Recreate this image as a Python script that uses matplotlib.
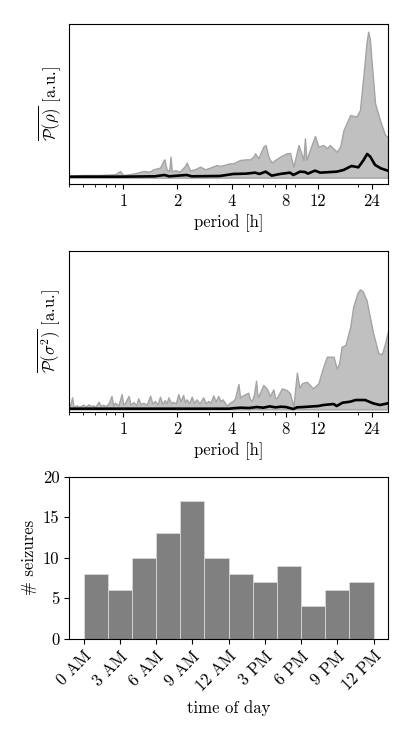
import numpy as np
import matplotlib
matplotlib.use('Agg')
import matplotlib.pyplot as plt
from matplotlib.ticker import NullFormatter

plt.rcParams['font.family'] = ['cmr10', 'DejaVu Serif']
plt.rcParams['mathtext.fontset'] = 'cm'
plt.rcParams['axes.unicode_minus'] = False
plt.rcParams['font.size'] = 12

# --- periodogram of rho: upper band and mean ---
rho_period = [0.50, 0.60, 0.74, 0.90, 0.96, 1.00, 1.14, 1.29, 1.40, 1.47, 1.60, 1.67, 1.69,
              1.74, 1.80, 1.83, 1.86, 1.95, 2.06, 2.20, 2.25, 2.35, 2.50, 2.67, 2.85, 3.03,
              3.30, 3.44, 3.91, 4.08, 4.45, 4.84, 5.05, 5.28, 5.39, 5.62, 5.99, 6.17, 6.39,
              6.67, 6.96, 7.42, 8.07, 8.43, 8.80, 9.40, 10.0, 10.2, 10.4, 10.85, 11.6, 12.1,
              12.9, 13.5, 14.0, 15.3, 16.0, 16.7, 18.2, 19.7, 20.6, 21.6, 22.4, 22.9, 23.4,
              23.9, 25.0, 26.6, 28.4, 29.4]
rho_upper = [0.05, 0.08, 0.08, 0.10, 0.20, 0.08, 0.12, 0.20, 0.18, 0.25, 0.30, 0.50, 0.55,
             0.25, 0.20, 0.63, 0.20, 0.22, 0.18, 0.35, 0.45, 0.22, 0.25, 0.33, 0.25, 0.30,
             0.38, 0.35, 0.43, 0.43, 0.53, 0.55, 0.55, 0.63, 0.73, 0.58, 0.93, 0.98, 0.63,
             0.45, 0.53, 0.63, 0.73, 0.74, 0.33, 0.98, 0.53, 1.18, 0.53, 0.83, 1.25, 0.93,
             0.98, 0.88, 0.98, 0.78, 0.93, 1.43, 1.88, 1.83, 2.03, 3.13, 4.05, 4.38, 4.15,
             3.50, 2.23, 1.73, 1.28, 1.23]
rho_mean_period = [0.50, 1.00, 1.50, 1.69, 1.80, 2.25, 2.40, 3.44, 4.08, 4.80, 5.39, 5.70,
                   6.17, 6.67, 7.42, 8.43, 8.80, 9.58, 10.2, 10.6, 11.6, 12.4, 15.3, 16.7,
                   18.5, 20.2, 21.6, 22.6, 23.5, 25.0, 26.9, 29.4]
rho_mean = [0.03, 0.03, 0.04, 0.08, 0.04, 0.08, 0.04, 0.05, 0.11, 0.12, 0.15, 0.11,
            0.18, 0.06, 0.11, 0.15, 0.08, 0.18, 0.17, 0.12, 0.21, 0.15, 0.18, 0.23,
            0.35, 0.31, 0.53, 0.71, 0.63, 0.38, 0.28, 0.21]

# --- periodogram of sigma^2 ---
sig_period = [0.506, 0.52, 0.53, 0.55, 0.57, 0.60, 0.62, 0.64, 0.66, 0.68, 0.70, 0.73, 0.75,
              0.77, 0.80, 0.83, 0.86, 0.88, 0.90, 0.94, 0.98, 1.00, 1.02, 1.07, 1.10, 1.14,
              1.18, 1.21, 1.25, 1.29, 1.35, 1.41, 1.45, 1.50, 1.55, 1.60, 1.65, 1.70, 1.74,
              1.78, 1.84, 1.90, 1.96, 2.02, 2.08, 2.15, 2.20, 2.25, 2.32, 2.40, 2.47, 2.55,
              2.65, 2.78, 2.87, 2.96, 3.05, 3.16, 3.26, 3.37, 3.46, 3.56, 3.75, 3.91, 4.05,
              4.17, 4.36, 4.45, 4.54, 4.74, 4.94, 5.05, 5.17, 5.32, 5.46, 5.55, 5.62, 5.99,
              6.25, 6.52, 6.81, 6.96, 7.10, 7.60, 8.07, 8.43, 8.80, 9.20, 9.50, 9.80, 10.4,
              10.8, 11.3, 12.1, 12.9, 13.5, 14.7, 15.3, 15.8, 16.3, 17.1, 18.2, 18.9, 20.0,
              20.6, 21.3, 22.4, 24.4, 26.1, 27.3, 28.4, 29.4]
sig_upper = [0.10, 0.36, 0.08, 0.12, 0.08, 0.14, 0.08, 0.15, 0.10, 0.12, 0.08, 0.23, 0.10,
             0.14, 0.10, 0.18, 0.40, 0.12, 0.20, 0.12, 0.46, 0.15, 0.18, 0.40, 0.14, 0.22,
             0.12, 0.33, 0.15, 0.20, 0.14, 0.41, 0.18, 0.25, 0.15, 0.38, 0.16, 0.28, 0.18,
             0.36, 0.20, 0.22, 0.18, 0.46, 0.24, 0.43, 0.22, 0.30, 0.18, 0.38, 0.20, 0.30,
             0.18, 0.36, 0.18, 0.25, 0.20, 0.42, 0.24, 0.40, 0.25, 0.30, 0.11, 0.20, 0.25,
             0.32, 0.76, 0.35, 0.40, 0.45, 0.50, 0.30, 0.26, 0.45, 0.86, 0.45, 0.38, 0.73,
             0.63, 0.40, 0.60, 0.35, 0.33, 0.63, 0.58, 0.48, 0.08, 1.10, 0.65, 0.78, 0.83,
             0.75, 0.63, 0.78, 1.28, 1.58, 1.58, 1.23, 1.38, 1.88, 1.93, 2.48, 3.08, 3.50,
             3.60, 3.55, 3.28, 2.28, 1.68, 1.66, 1.98, 2.33]
sig_mean_period = [0.506, 1.0, 2.0, 3.9, 4.0, 4.5, 5.0, 5.5, 6.0, 6.5, 7.0, 7.5, 8.0, 8.8,
                   9.2, 10.0, 12.1, 12.9, 14.7, 15.3, 16.5, 18.2, 19.5, 22.0, 24.4, 26.6, 29.4]
sig_mean = [0.02, 0.02, 0.02, 0.02, 0.03, 0.05, 0.04, 0.07, 0.05, 0.09, 0.06, 0.08, 0.07,
            0.01, 0.06, 0.07, 0.10, 0.13, 0.16, 0.10, 0.20, 0.23, 0.28, 0.28, 0.18, 0.13, 0.18]

period_ticks = [1, 2, 4, 8, 12, 24]

# --- seizure histogram ---
bin_start = [0, 2, 4, 6, 8, 10, 12, 14, 16, 18, 20, 22]
seizures = [8, 6, 10, 13, 17, 10, 8, 7, 9, 4, 6, 7]
hour_ticks = [0, 3, 6, 9, 12, 15, 18, 21, 24]
hour_labels = ['0 AM', '3 AM', '6 AM', '9 AM', '12 AM', '3 PM', '6 PM', '9 PM', '12 PM']

fig = plt.figure(figsize=(4.15, 7.38), dpi=100)
ax1 = fig.add_axes([0.1663, 0.7507, 0.7687, 0.2168])
ax2 = fig.add_axes([0.1663, 0.4417, 0.7687, 0.2186])
ax3 = fig.add_axes([0.1663, 0.1346, 0.7687, 0.2195])


def periodogram(ax, period, upper, mean_p, mean, ylabel, ylim):
    ax.fill_between(period, 0, upper, facecolor='#c0c0c0', edgecolor='#a4a4a4', linewidth=1.0)
    ax.plot(mean_p, mean, color='black', linewidth=1.9)
    ax.set_xscale('log')
    ax.set_xlim(0.5, 29.5)
    ax.set_ylim(*ylim)
    ax.set_xticks(period_ticks, [str(t) for t in period_ticks])
    ax.xaxis.set_minor_formatter(NullFormatter())
    ax.set_yticks([])
    ax.set_xlabel('period [h]')
    ax.set_ylabel(ylabel)


periodogram(ax1, rho_period, rho_upper, rho_mean_period, rho_mean,
            r'$\overline{\mathcal{P}(\rho)}$ [a.u.]', (-0.19, 4.61))
periodogram(ax2, sig_period, sig_upper, sig_mean_period, sig_mean,
            r'$\overline{\mathcal{P}(\sigma^2)}$ [a.u.]', (-0.08, 4.76))

ax3.bar(bin_start, seizures, width=2, align='edge', color='#808080',
        edgecolor='#d8d8d8', linewidth=0.6)
ax3.set_ylim(0, 20)
ax3.set_yticks([0, 5, 10, 15, 20])
ax3.set_xticks(hour_ticks)
ax3.set_xticklabels(hour_labels, rotation=45, ha='right', rotation_mode='anchor')
ax3.set_xlabel('time of day')
ax3.set_ylabel('# seizures')

fig.savefig('out.png', dpi=100)
